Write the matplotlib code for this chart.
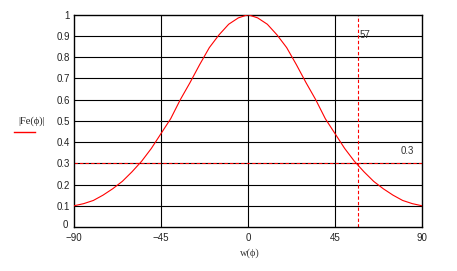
import matplotlib
matplotlib.use("Agg")
import matplotlib.pyplot as plt
import matplotlib.transforms as mtransforms
import numpy as np

# data
phi = [-90, -85, -80, -75, -70, -65, -60, -55, -50, -45, -40, -35, -30, -25, -20, -15, -10, -5,
       0, 5, 10, 15, 20, 25, 30, 35, 40, 45, 50, 55, 60, 65, 70, 75, 80, 85, 90]
half = [1.0, 0.985, 0.955, 0.905, 0.845, 0.765, 0.68, 0.60, 0.51, 0.44, 0.37, 0.31, 0.26,
        0.215, 0.18, 0.15, 0.125, 0.11, 0.1]
fe = half[::-1][:-1] + half
marker_x = 57
marker_y = 0.3
xticks = [-90, -45, 0, 45, 90]
yticks = [0, 0.1, 0.2, 0.3, 0.4, 0.5, 0.6, 0.7, 0.8, 0.9, 1]

fig = plt.figure(figsize=(4.57, 2.71), dpi=100)
ax = fig.add_axes([74/457, 44/271, 348/457, 212.3/271])

ax.set_xlim(-90, 90)
ax.set_ylim(0, 1)
for t in [-45, 0, 45]:
    ax.axvline(t, color="black", lw=0.8, zorder=1)
for t in yticks[1:-1]:
    ax.axhline(t, color="black", lw=0.8, zorder=1)

ax.plot(phi, fe, color="red", lw=0.8, zorder=3)
ax.axvline(marker_x, color="red", lw=0.8, ls=(0, (3, 2)), zorder=2)
ax.axhline(marker_y, color="red", lw=0.8, ls=(0, (3, 2)), zorder=2)

ax.text(marker_x + 0.5, 0.905, "57", fontsize=7, color="#333333", family="Liberation Sans",
        ha="left", va="center")
ax.text(86, 0.36, "0.3", fontsize=7, color="#333333", family="Liberation Sans",
        ha="right", va="center")

ax.set_xticks(xticks)
ax.set_xticklabels(["\u221290", "\u221245", "0", "45", "90"])
ax.set_yticks(yticks)
ax.set_yticklabels(["0", "0.1", "0.2", "0.3", "0.4", "0.5", "0.6", "0.7", "0.8", "0.9", "1"])
ax.tick_params(length=0, labelsize=7, pad=3, colors="#222222")
ax.tick_params(axis="x", pad=4)
for lab in ax.get_xticklabels() + ax.get_yticklabels():
    lab.set_family("Liberation Sans")
zero_lab = ax.get_yticklabels()[0]
zero_lab.set_transform(zero_lab.get_transform() +
                       mtransforms.ScaledTranslation(-2/100, 3/100, fig.dpi_scale_trans))
for s in ax.spines.values():
    s.set_color("black")
    s.set_linewidth(1.0)

fig.text(250/457, 1 - 253/271, "w(\u03d5)", fontsize=7.5, family="Liberation Serif",
         ha="center", va="center", color="#333333")
fig.text(32/457, 1 - 121/271, "|Fe(\u03d5)|", fontsize=7.5, family="Liberation Serif",
         ha="center", va="center", color="#222222")
fig.add_artist(plt.Line2D([14/457, 35/457], [1 - 132/271, 1 - 132/271], color="red", lw=1.0))

fig.savefig("out.png", dpi=100, facecolor="white")
